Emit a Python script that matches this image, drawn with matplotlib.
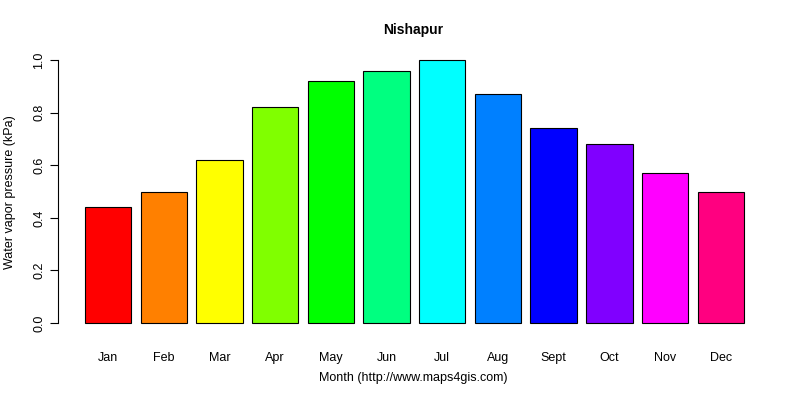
import matplotlib
matplotlib.use("Agg")
import matplotlib.pyplot as plt

plt.rcParams["font.family"] = ["Liberation Sans", "DejaVu Sans"]

months = ["Jan", "Feb", "Mar", "Apr", "May", "Jun", "Jul", "Aug", "Sept", "Oct", "Nov", "Dec"]
vapor = [0.44, 0.50, 0.62, 0.82, 0.92, 0.96, 1.00, 0.87, 0.74, 0.68, 0.57, 0.50]
colors = ["#FF0000", "#FF8000", "#FFFF00", "#80FF00", "#00FF00", "#00FF80",
          "#00FFFF", "#0080FF", "#0000FF", "#8000FF", "#FF00FF", "#FF0080"]

fig = plt.figure(figsize=(8, 4), dpi=100)
ax = fig.add_axes([0.073, 0.166, 0.89, 0.71])

# R barplot layout: width 1, space 0.2
xs = [0.2 + i * 1.2 + 0.5 for i in range(len(months))]
ax.bar(xs, vapor, width=1.0, color=colors, edgecolor="black", linewidth=0.8)

ax.set_xlim(-0.37, 14.97)
ax.set_ylim(-0.04, 1.04)
for s in ["top", "right", "bottom"]:
    ax.spines[s].set_visible(False)
ax.spines["left"].set_bounds(0, 1)
ax.set_yticks([0, 0.2, 0.4, 0.6, 0.8, 1.0])
ax.set_yticklabels(["0.0", "0.2", "0.4", "0.6", "0.8", "1.0"], rotation=90, va="center", fontsize=9)
ax.set_xticks(xs)
ax.set_xticklabels(months, fontsize=9)
ax.tick_params(axis="x", length=0, pad=13)
ax.tick_params(axis="y", length=6)

fig.text(0.517, 0.925, "Nishapur", ha="center", va="center", fontsize=10, fontweight="bold")
fig.text(0.517, 0.055, "Month (http://www.maps4gis.com)", ha="center", va="center", fontsize=9)
fig.text(0.013, 0.52, "Water vapor pressure (kPa)", ha="center", va="center", rotation=90, fontsize=9)

fig.savefig("out.png")
